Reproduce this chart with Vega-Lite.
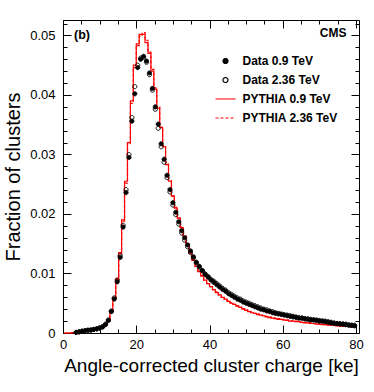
{
  "$schema": "https://vega.github.io/schema/vega-lite/v6.json",
  "width": 296,
  "height": 313,
  "autosize": {"type": "none"},
  "padding": {"left": 63, "top": 20, "right": 15, "bottom": 59},
  "background": "white",
  "config": {
    "font": "Liberation Sans",
    "view": {"stroke": null},
    "legend": {"symbolFillColor": "transparent", "symbolStrokeColor": "black"},
    "axis": {
      "domainColor": "black",
      "domainWidth": 1,
      "tickColor": "black",
      "tickWidth": 1,
      "labelColor": "black",
      "titleColor": "black",
      "grid": false,
      "labelFont": "Liberation Sans",
      "labelFontSize": 13,
      "titleFont": "Liberation Sans",
      "titleFontWeight": "normal",
      "labelFlush": false,
      "labelOverlap": false
    }
  },
  "data": {
    "values": [
      {"x": 0.4, "a": null, "b": null, "c": 0, "d": 0},
      {"x": 1.2, "a": null, "b": null, "c": 0, "d": 0},
      {"x": 2.0, "a": null, "b": null, "c": 0, "d": 0},
      {"x": 2.8, "a": null, "b": null, "c": 0.00005, "d": 0.00005},
      {"x": 3.6, "a": 0.0001, "b": 0.0001, "c": 0.0001, "d": 0.0001},
      {"x": 4.4, "a": 0.0002, "b": 0.0002, "c": 0.0002, "d": 0.0002},
      {"x": 5.2, "a": 0.0003, "b": 0.0003, "c": 0.0003, "d": 0.0003},
      {"x": 6.0, "a": 0.0004, "b": 0.0004, "c": 0.0004, "d": 0.0004},
      {"x": 6.8, "a": 0.0005, "b": 0.0004, "c": 0.0004, "d": 0.0005},
      {"x": 7.6, "a": 0.0005, "b": 0.0005, "c": 0.0005, "d": 0.0005},
      {"x": 8.4, "a": 0.0006, "b": 0.0006, "c": 0.0005, "d": 0.0006},
      {"x": 9.2, "a": 0.0007, "b": 0.0007, "c": 0.0006, "d": 0.0007},
      {"x": 10.0, "a": 0.0008, "b": 0.0009, "c": 0.0008, "d": 0.0008},
      {"x": 10.8, "a": 0.0010, "b": 0.0011, "c": 0.0010, "d": 0.0010},
      {"x": 11.6, "a": 0.0014, "b": 0.0015, "c": 0.0014, "d": 0.0015},
      {"x": 12.4, "a": 0.0021, "b": 0.0022, "c": 0.0022, "d": 0.0022},
      {"x": 13.2, "a": 0.0036, "b": 0.0037, "c": 0.0038, "d": 0.0037},
      {"x": 14.0, "a": 0.0057, "b": 0.0059, "c": 0.0060, "d": 0.0059},
      {"x": 14.8, "a": 0.0086, "b": 0.0089, "c": 0.0090, "d": 0.0091},
      {"x": 15.6, "a": 0.0127, "b": 0.0130, "c": 0.0135, "d": 0.0133},
      {"x": 16.4, "a": 0.0178, "b": 0.0181, "c": 0.0190, "d": 0.0188},
      {"x": 17.2, "a": 0.0236, "b": 0.0241, "c": 0.0255, "d": 0.0252},
      {"x": 18.0, "a": 0.0295, "b": 0.0300, "c": 0.0320, "d": 0.0318},
      {"x": 18.8, "a": 0.0356, "b": 0.0362, "c": 0.0390, "d": 0.0386},
      {"x": 19.6, "a": 0.0402, "b": 0.0414, "c": 0.0450, "d": 0.0446},
      {"x": 20.4, "a": 0.0446, "b": 0.0450, "c": 0.0486, "d": 0.0483},
      {"x": 21.2, "a": 0.0460, "b": 0.0462, "c": 0.0502, "d": 0.0499},
      {"x": 22.0, "a": 0.0465, "b": 0.0463, "c": 0.0502, "d": 0.0505},
      {"x": 22.8, "a": 0.0457, "b": 0.0455, "c": 0.0488, "d": 0.0492},
      {"x": 23.6, "a": 0.0437, "b": 0.0434, "c": 0.0470, "d": 0.0472},
      {"x": 24.4, "a": 0.0411, "b": 0.0408, "c": 0.0440, "d": 0.0443},
      {"x": 25.2, "a": 0.0380, "b": 0.0376, "c": 0.0410, "d": 0.0412},
      {"x": 26.0, "a": 0.0351, "b": 0.0344, "c": 0.0378, "d": 0.0380},
      {"x": 26.8, "a": 0.0318, "b": 0.0313, "c": 0.0345, "d": 0.0346},
      {"x": 27.6, "a": 0.0292, "b": 0.0287, "c": 0.0313, "d": 0.0315},
      {"x": 28.4, "a": 0.0265, "b": 0.0261, "c": 0.0283, "d": 0.0284},
      {"x": 29.2, "a": 0.0241, "b": 0.0237, "c": 0.0255, "d": 0.0256},
      {"x": 30.0, "a": 0.0219, "b": 0.0215, "c": 0.0230, "d": 0.0231},
      {"x": 30.8, "a": 0.0203, "b": 0.0199, "c": 0.0210, "d": 0.0211},
      {"x": 31.6, "a": 0.0187, "b": 0.0183, "c": 0.0193, "d": 0.0193},
      {"x": 32.4, "a": 0.0172, "b": 0.0168, "c": 0.0177, "d": 0.0178},
      {"x": 33.2, "a": 0.0160, "b": 0.0156, "c": 0.0163, "d": 0.0163},
      {"x": 34.0, "a": 0.0148, "b": 0.0145, "c": 0.0149, "d": 0.0150},
      {"x": 34.8, "a": 0.0138, "b": 0.0135, "c": 0.0134, "d": 0.0135},
      {"x": 35.6, "a": 0.0128, "b": 0.0126, "c": 0.0122, "d": 0.0123},
      {"x": 36.4, "a": 0.0119, "b": 0.0118, "c": 0.0112, "d": 0.0112},
      {"x": 37.2, "a": 0.0112, "b": 0.0111, "c": 0.0103, "d": 0.0103},
      {"x": 38.0, "a": 0.0105, "b": 0.0105, "c": 0.0096, "d": 0.0096},
      {"x": 38.8, "a": 0.0099, "b": 0.0099, "c": 0.0089, "d": 0.0089},
      {"x": 39.6, "a": 0.0094, "b": 0.0095, "c": 0.0083, "d": 0.0083},
      {"x": 40.4, "a": 0.0089, "b": 0.0090, "c": 0.0078, "d": 0.0078},
      {"x": 41.2, "a": 0.0085, "b": 0.0087, "c": 0.0073, "d": 0.0073},
      {"x": 42.0, "a": 0.0081, "b": 0.0083, "c": 0.0068, "d": 0.0069},
      {"x": 42.8, "a": 0.0077, "b": 0.0079, "c": 0.0064, "d": 0.0064},
      {"x": 43.6, "a": 0.0073, "b": 0.0075, "c": 0.0060, "d": 0.0060},
      {"x": 44.4, "a": 0.0070, "b": 0.0072, "c": 0.0057, "d": 0.0057},
      {"x": 45.2, "a": 0.0066, "b": 0.0068, "c": 0.0053, "d": 0.0054},
      {"x": 46.0, "a": 0.0063, "b": 0.0065, "c": 0.0050, "d": 0.0051},
      {"x": 46.8, "a": 0.0060, "b": 0.0062, "c": 0.0048, "d": 0.0048},
      {"x": 47.6, "a": 0.0057, "b": 0.0059, "c": 0.0045, "d": 0.0046},
      {"x": 48.4, "a": 0.0055, "b": 0.0057, "c": 0.0043, "d": 0.0043},
      {"x": 49.2, "a": 0.0052, "b": 0.0054, "c": 0.0040, "d": 0.0041},
      {"x": 50.0, "a": 0.0050, "b": 0.0052, "c": 0.0038, "d": 0.0039},
      {"x": 50.8, "a": 0.0048, "b": 0.0050, "c": 0.0036, "d": 0.0037},
      {"x": 51.6, "a": 0.0046, "b": 0.0048, "c": 0.0034, "d": 0.0035},
      {"x": 52.4, "a": 0.0044, "b": 0.0046, "c": 0.0033, "d": 0.0033},
      {"x": 53.2, "a": 0.0042, "b": 0.0044, "c": 0.0031, "d": 0.0032},
      {"x": 54.0, "a": 0.0040, "b": 0.0042, "c": 0.0030, "d": 0.0030},
      {"x": 54.8, "a": 0.0039, "b": 0.0040, "c": 0.0029, "d": 0.0029},
      {"x": 55.6, "a": 0.0037, "b": 0.0039, "c": 0.0027, "d": 0.0028},
      {"x": 56.4, "a": 0.0036, "b": 0.0037, "c": 0.0026, "d": 0.0027},
      {"x": 57.2, "a": 0.0034, "b": 0.0036, "c": 0.0025, "d": 0.0026},
      {"x": 58.0, "a": 0.0033, "b": 0.0034, "c": 0.0024, "d": 0.0025},
      {"x": 58.8, "a": 0.0032, "b": 0.0033, "c": 0.0023, "d": 0.0024},
      {"x": 59.6, "a": 0.0031, "b": 0.0032, "c": 0.0023, "d": 0.0023},
      {"x": 60.4, "a": 0.0030, "b": 0.0031, "c": 0.0022, "d": 0.0022},
      {"x": 61.2, "a": 0.0029, "b": 0.0030, "c": 0.0021, "d": 0.0022},
      {"x": 62.0, "a": 0.0028, "b": 0.0029, "c": 0.0020, "d": 0.0021},
      {"x": 62.8, "a": 0.0027, "b": 0.0028, "c": 0.0020, "d": 0.0020},
      {"x": 63.6, "a": 0.0026, "b": 0.0027, "c": 0.0019, "d": 0.0020},
      {"x": 64.4, "a": 0.0025, "b": 0.0026, "c": 0.0019, "d": 0.0019},
      {"x": 65.2, "a": 0.0025, "b": 0.0025, "c": 0.0018, "d": 0.0018},
      {"x": 66.0, "a": 0.0024, "b": 0.0024, "c": 0.0017, "d": 0.0018},
      {"x": 66.8, "a": 0.0023, "b": 0.0024, "c": 0.0017, "d": 0.0017},
      {"x": 67.6, "a": 0.0022, "b": 0.0023, "c": 0.0016, "d": 0.0017},
      {"x": 68.4, "a": 0.0022, "b": 0.0022, "c": 0.0016, "d": 0.0016},
      {"x": 69.2, "a": 0.0021, "b": 0.0022, "c": 0.0015, "d": 0.0016},
      {"x": 70.0, "a": 0.0020, "b": 0.0021, "c": 0.0015, "d": 0.0015},
      {"x": 70.8, "a": 0.0020, "b": 0.0020, "c": 0.0014, "d": 0.0015},
      {"x": 71.6, "a": 0.0019, "b": 0.0020, "c": 0.0014, "d": 0.0014},
      {"x": 72.4, "a": 0.0018, "b": 0.0019, "c": 0.0013, "d": 0.0014},
      {"x": 73.2, "a": 0.0017, "b": 0.0018, "c": 0.0013, "d": 0.0013},
      {"x": 74.0, "a": 0.0016, "b": 0.0017, "c": 0.0013, "d": 0.0013},
      {"x": 74.8, "a": 0.0016, "b": 0.0016, "c": 0.0012, "d": 0.0013},
      {"x": 75.6, "a": 0.0015, "b": 0.0016, "c": 0.0012, "d": 0.0012},
      {"x": 76.4, "a": 0.0015, "b": 0.0015, "c": 0.0011, "d": 0.0012},
      {"x": 77.2, "a": 0.0014, "b": 0.0015, "c": 0.0011, "d": 0.0011},
      {"x": 78.0, "a": 0.0013, "b": 0.0014, "c": 0.0011, "d": 0.0011},
      {"x": 78.8, "a": 0.0013, "b": 0.0013, "c": 0.0010, "d": 0.0011},
      {"x": 79.6, "a": 0.0012, "b": 0.0013, "c": 0.0010, "d": 0.0010}
    ]
  },
  "transform": [{"fold": ["a", "b", "c", "d"], "as": ["s", "y"]}],
  "layer": [
    {
      "transform": [{"filter": {"field": "s", "equal": "c"}}],
      "mark": {"type": "line", "interpolate": "step", "strokeWidth": 1.2, "color": "#ff0000"},
      "encoding": {
        "x": {
          "field": "x", "type": "quantitative",
          "scale": {"domain": [0, 80.8], "nice": false, "zero": false},
          "axis": {
            "orient": "top", "title": null, "labels": false,
            "values": [0,5,10,15,20,25,30,35,40,45,50,55,60,65,70,75,80],
            "tickSize": {"condition": {"test": "datum.value % 20 === 0", "value": -8}, "value": -4}
          }
        },
        "y": {
          "field": "y", "type": "quantitative",
          "scale": {"domain": [0, 0.0526], "nice": false},
          "axis": {
            "orient": "right", "title": null, "labels": false,
            "values": [0,0.002,0.004,0.006,0.008,0.01,0.012,0.014,0.016,0.018,0.02,0.022,0.024,0.026,0.028,0.03,0.032,0.034,0.036,0.038,0.04,0.042,0.044,0.046,0.048,0.05,0.052],
            "tickSize": {"condition": {"test": "abs(datum.value*100 - round(datum.value*100)) < 0.000001", "value": -8}, "value": -4}
          }
        }
      }
    },
    {
      "transform": [{"filter": {"field": "s", "equal": "d"}}],
      "mark": {"type": "line", "interpolate": "step", "strokeWidth": 1.2, "color": "#ff0000", "strokeDash": [3, 2]},
      "encoding": {
        "x": {"field": "x", "type": "quantitative", "axis": null},
        "y": {"field": "y", "type": "quantitative", "axis": null}
      }
    },
    {
      "transform": [{"filter": {"field": "s", "oneOf": ["a", "b"]}}],
      "mark": {"type": "point", "size": 17, "strokeWidth": 1, "opacity": 1},
      "encoding": {
        "x": {
          "field": "x", "type": "quantitative",
          "axis": {
            "orient": "bottom",
            "title": "Angle-corrected cluster charge [ke]",
            "titleFontSize": 19, "titlePadding": 1,
            "values": [0,5,10,15,20,25,30,35,40,45,50,55,60,65,70,75,80],
            "tickSize": {"condition": {"test": "datum.value % 20 === 0", "value": -8}, "value": -4},
            "labelExpr": "datum.value % 20 === 0 ? datum.label : ''",
            "labelPadding": 13
          }
        },
        "y": {
          "field": "y", "type": "quantitative",
          "axis": {
            "orient": "left",
            "title": "Fraction of clusters",
            "titleFontSize": 20, "titlePadding": 6,
            "values": [0,0.002,0.004,0.006,0.008,0.01,0.012,0.014,0.016,0.018,0.02,0.022,0.024,0.026,0.028,0.03,0.032,0.034,0.036,0.038,0.04,0.042,0.044,0.046,0.048,0.05,0.052],
            "tickSize": {"condition": {"test": "abs(datum.value*100 - round(datum.value*100)) < 0.000001", "value": -8}, "value": -4},
            "labelExpr": "abs(datum.value*100 - round(datum.value*100)) < 0.000001 ? format(datum.value, '.2~f') : ''",
            "labelPadding": 16
          }
        },
        "stroke": {
          "field": "s", "type": "nominal",
          "scale": {"domain": ["a", "b", "c", "d"], "range": ["black", "black", "#ff0000", "#ff0000"]},
          "legend": {
            "orient": "none", "legendX": 156.5, "legendY": 35, "direction": "vertical",
            "title": null, "padding": 0, "rowPadding": 7,
            "symbolSize": 25, "symbolStrokeWidth": 1.2,
            "labelFont": "Liberation Sans", "labelFontSize": 12, "labelFontWeight": "bold",
            "labelColor": "black", "labelOffset": 11,
            "labelExpr": "datum.value === 'a' ? 'Data 0.9 TeV' : datum.value === 'b' ? 'Data 2.36 TeV' : datum.value === 'c' ? 'PYTHIA 0.9 TeV' : 'PYTHIA 2.36 TeV'"
          }
        },
        "fill": {
          "field": "s", "type": "nominal",
          "scale": {"domain": ["a", "b", "c", "d"], "range": ["black", "transparent", "transparent", "transparent"]},
          "legend": {
            "orient": "none", "legendX": 156.5, "legendY": 35, "direction": "vertical",
            "title": null, "padding": 0, "rowPadding": 7,
            "symbolSize": 25, "symbolStrokeWidth": 1.2,
            "labelFont": "Liberation Sans", "labelFontSize": 12, "labelFontWeight": "bold",
            "labelColor": "black", "labelOffset": 11,
            "labelExpr": "datum.value === 'a' ? 'Data 0.9 TeV' : datum.value === 'b' ? 'Data 2.36 TeV' : datum.value === 'c' ? 'PYTHIA 0.9 TeV' : 'PYTHIA 2.36 TeV'"
          }
        },
        "shape": {
          "field": "s", "type": "nominal",
          "scale": {"domain": ["a", "b", "c", "d"], "range": ["circle", "circle", "M-4,0H4", "M-4,0H4"]},
          "legend": {
            "orient": "none", "legendX": 156.5, "legendY": 35, "direction": "vertical",
            "title": null, "padding": 0, "rowPadding": 7,
            "symbolSize": 25, "symbolStrokeWidth": 1.2,
            "labelFont": "Liberation Sans", "labelFontSize": 12, "labelFontWeight": "bold",
            "labelColor": "black", "labelOffset": 11,
            "labelExpr": "datum.value === 'a' ? 'Data 0.9 TeV' : datum.value === 'b' ? 'Data 2.36 TeV' : datum.value === 'c' ? 'PYTHIA 0.9 TeV' : 'PYTHIA 2.36 TeV'"
          }
        },
        "strokeDash": {
          "field": "s", "type": "nominal",
          "scale": {"domain": ["a", "b", "c", "d"], "range": [[1, 0], [1, 0], [1, 0], [3, 2]]},
          "legend": {
            "orient": "none", "legendX": 156.5, "legendY": 35, "direction": "vertical",
            "title": null, "padding": 0, "rowPadding": 7,
            "symbolSize": 25, "symbolStrokeWidth": 1.2,
            "labelFont": "Liberation Sans", "labelFontSize": 12, "labelFontWeight": "bold",
            "labelColor": "black", "labelOffset": 11,
            "labelExpr": "datum.value === 'a' ? 'Data 0.9 TeV' : datum.value === 'b' ? 'Data 2.36 TeV' : datum.value === 'c' ? 'PYTHIA 0.9 TeV' : 'PYTHIA 2.36 TeV'"
          }
        }
      }
    },
    {
      "data": {"values": [{"t": "(b)"}]},
      "mark": {"type": "text", "align": "left", "baseline": "middle", "fontSize": 12.5, "fontWeight": "bold", "font": "Liberation Sans", "color": "black"},
      "encoding": {
        "x": {"datum": 3.0, "type": "quantitative", "axis": null},
        "y": {"datum": 0.0500, "type": "quantitative", "axis": null},
        "text": {"field": "t", "type": "nominal"}
      }
    },
    {
      "data": {"values": [{"t": "CMS"}]},
      "mark": {"type": "text", "align": "right", "baseline": "middle", "fontSize": 12, "fontWeight": "bold", "font": "Liberation Sans", "color": "black"},
      "encoding": {
        "x": {"datum": 77.4, "type": "quantitative", "axis": null},
        "y": {"datum": 0.0504, "type": "quantitative", "axis": null},
        "text": {"field": "t", "type": "nominal"}
      }
    }
  ],
  "resolve": {"axis": {"x": "independent", "y": "independent"}}
}
